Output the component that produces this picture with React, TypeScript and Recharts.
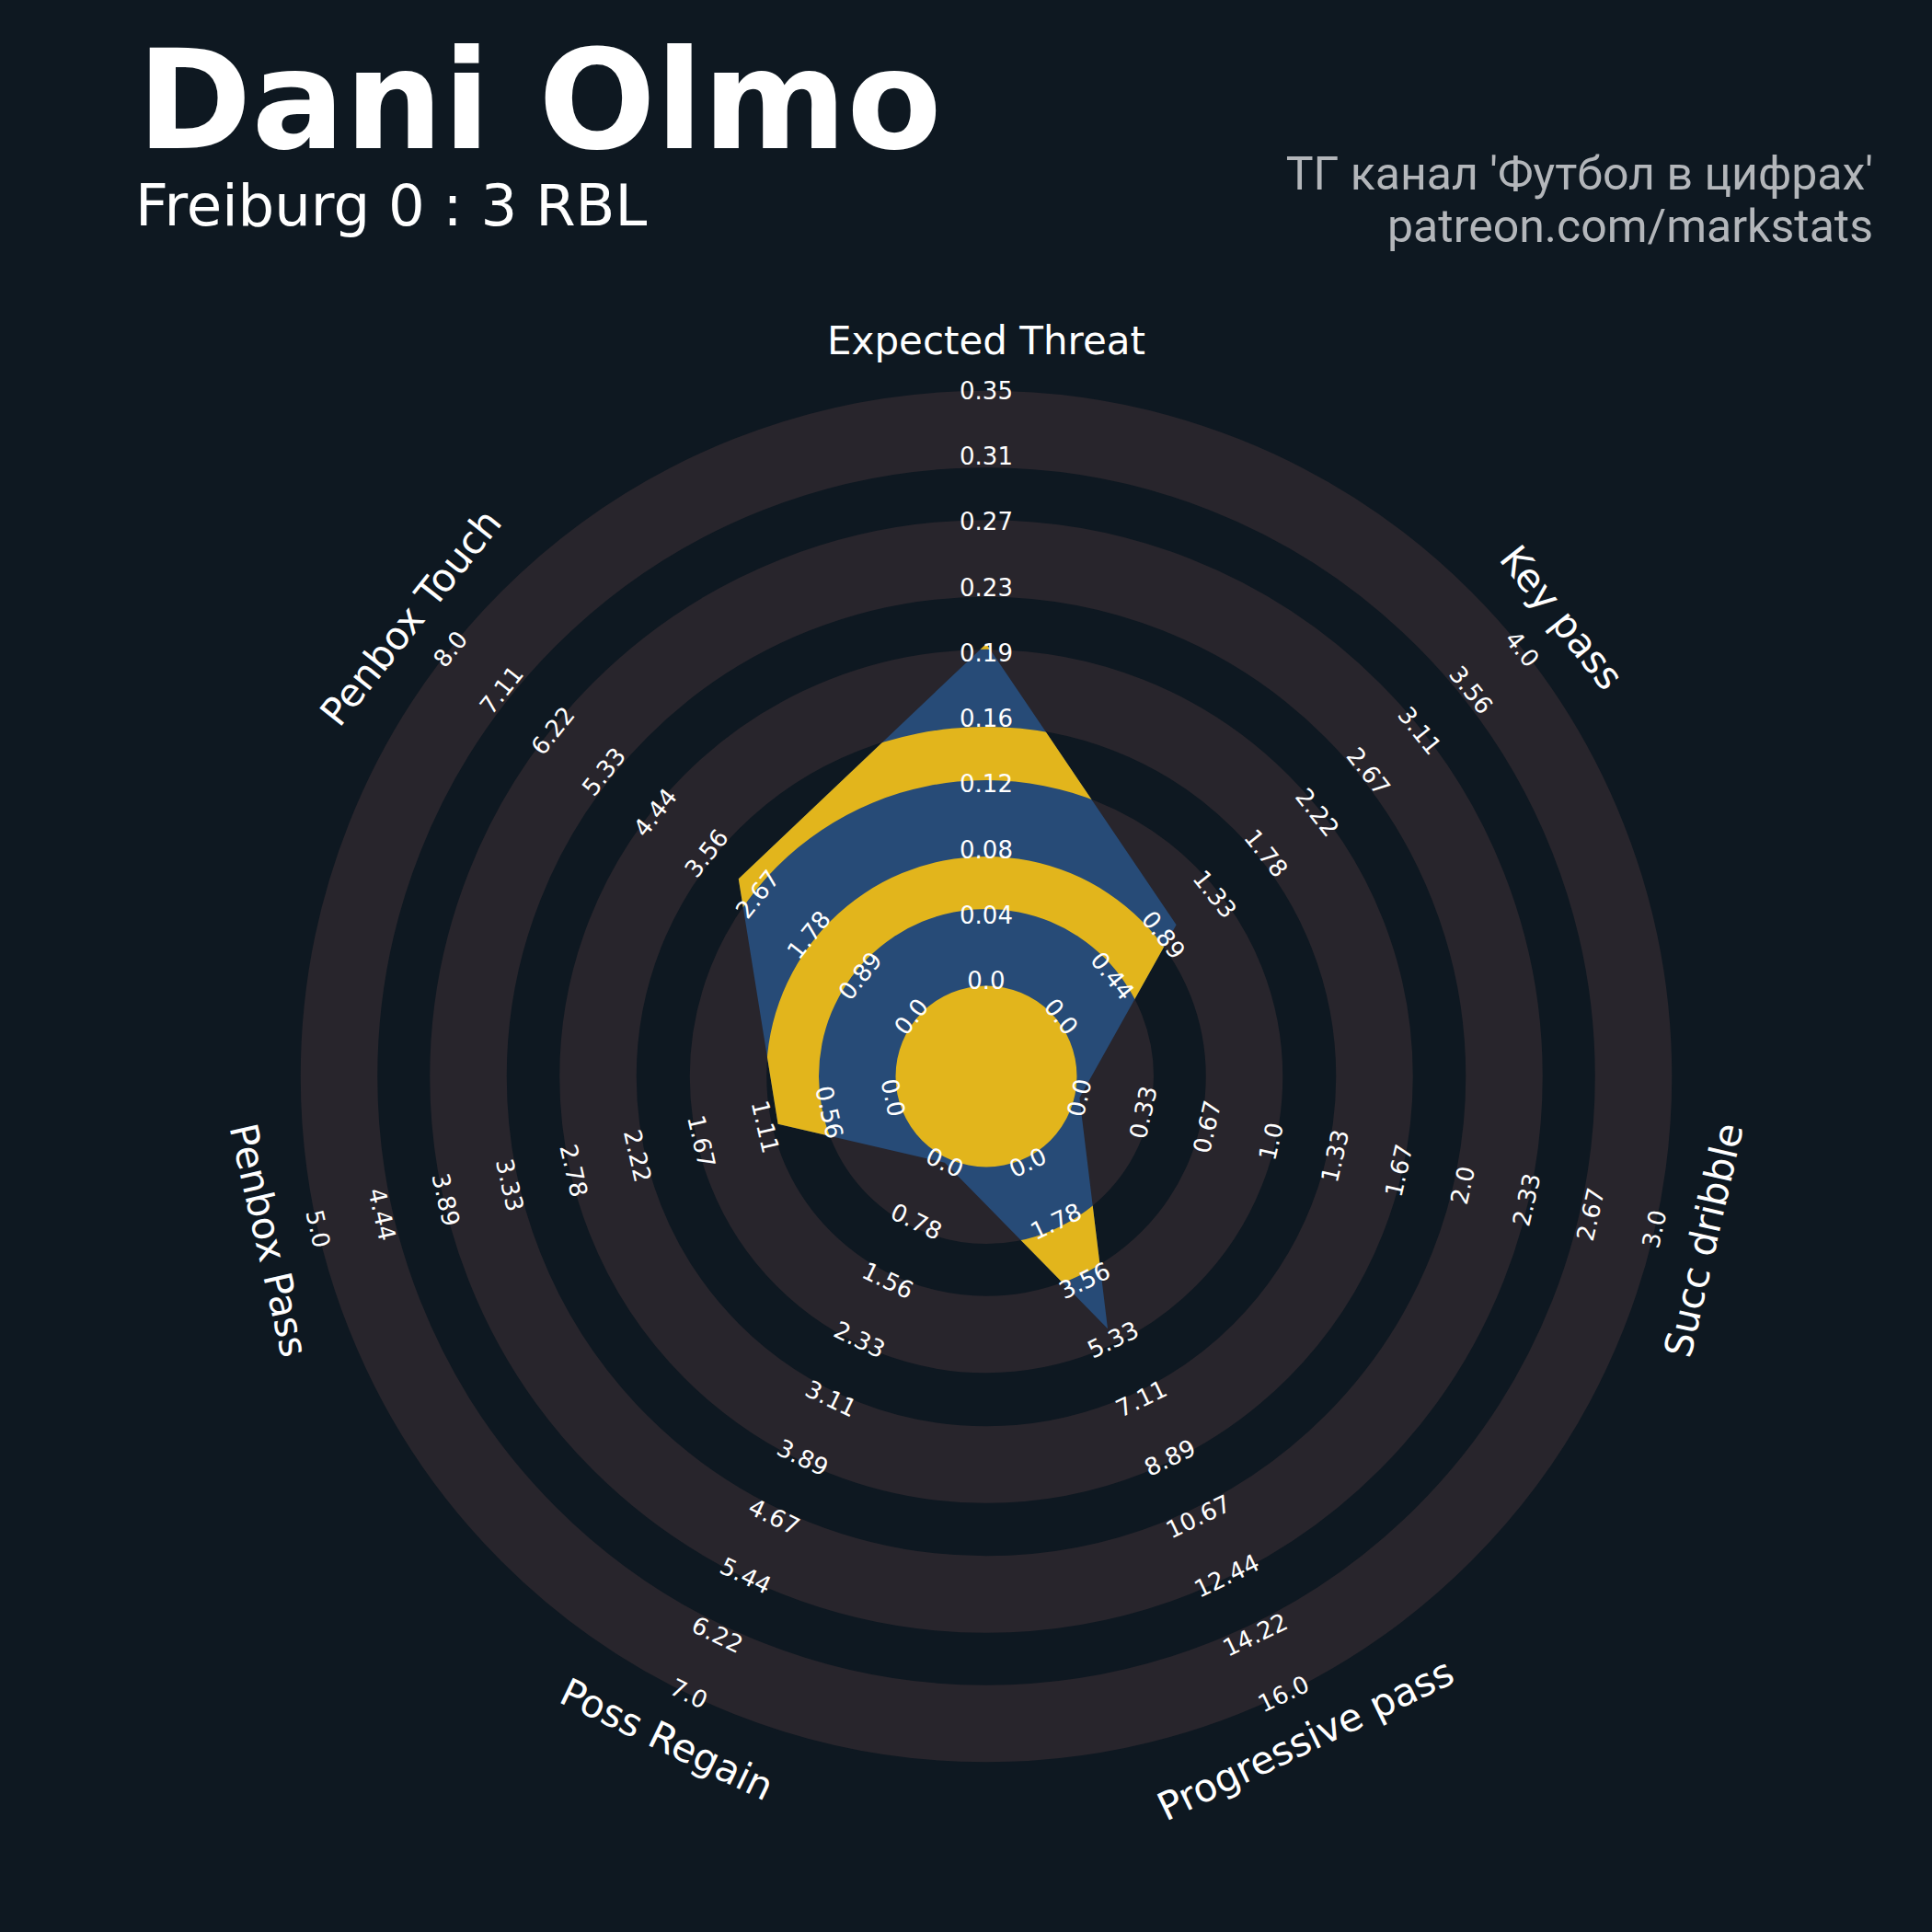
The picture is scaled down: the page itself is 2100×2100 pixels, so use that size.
import React from "react";
import {
  PolarAngleAxis,
  PolarGrid,
  PolarRadiusAxis,
  Radar,
  RadarChart,
} from "recharts";

// player radar, values per 90 for one match
const PARAMS = [
  "Expected Threat",
  "Key pass",
  "Succ dribble",
  "Progressive pass",
  "Poss Regain",
  "Penbox Pass",
  "Penbox Touch",
];
const VALUES = [0.2, 1, 0, 5, 0, 1, 3];
const MAXES = [0.35, 4, 3, 16, 7, 5, 8];
const TICK_LABELS = [
  ["0.0", "0.04", "0.08", "0.12", "0.16", "0.19", "0.23", "0.27", "0.31", "0.35"],
  ["0.0", "0.44", "0.89", "1.33", "1.78", "2.22", "2.67", "3.11", "3.56", "4.0"],
  ["0.0", "0.33", "0.67", "1.0", "1.33", "1.67", "2.0", "2.33", "2.67", "3.0"],
  ["0.0", "1.78", "3.56", "5.33", "7.11", "8.89", "10.67", "12.44", "14.22", "16.0"],
  ["0.0", "0.78", "1.56", "2.33", "3.11", "3.89", "4.67", "5.44", "6.22", "7.0"],
  ["0.0", "0.56", "1.11", "1.67", "2.22", "2.78", "3.33", "3.89", "4.44", "5.0"],
  ["0.0", "0.89", "1.78", "2.67", "3.56", "4.44", "5.33", "6.22", "7.11", "8.0"],
];

const TITLE = "Dani Olmo";
const SUBTITLE = "Freiburg 0 : 3 RBL";
const CREDITS = ["ТГ канал 'Футбол в цифрах'", "patreon.com/markstats"];

const SIZE = 2100;
const CX = 1072;
const CY = 1170;
const R_IN = 104;
const R_OUT = 745;
const NAME_R = 800;
// ring edges: gray, dark, gray, ... from the centre circle outwards
const RING_EDGES = [98.5, 182, 239, 322, 380, 464, 521, 605, 662, 745];

const BG = "#0e1821";
const RING = "#28252c";
const BLUE = "#274b77";
const YELLOW = "#e2b51c";
const FONT = "DejaVu Sans";

const rows = PARAMS.map((p, i) => ({ param: p, norm: VALUES[i] / MAXES[i] }));

const axisAngle = (i: number) => 90 - (i * 360) / PARAMS.length;

function tangentRot(angle: number) {
  let rot = 90 - angle;
  while (rot > 180) rot -= 360;
  while (rot <= -180) rot += 360;
  if (rot > 90) rot -= 180;
  if (rot < -90) rot += 180;
  return rot;
}

const bandCenters: number[] = [];
for (let k = 0; k + 1 < RING_EDGES.length; k += 2) {
  bandCenters.push((RING_EDGES[k] + RING_EDGES[k + 1]) / 2);
}

const circlePath = (cx: number, cy: number, r: number) =>
  `M${cx - r},${cy} a${r},${r} 0 1,0 ${2 * r},0 a${r},${r} 0 1,0 ${-2 * r},0 Z`;

// yellow part of the polygon: over the centre circle and the dark rings
const YellowShape = (props: any) => {
  const pts = props.points || [];
  if (!pts.length) return <g />;
  const cx = pts[0].cx ?? CX;
  const cy = pts[0].cy ?? CY;
  const d = RING_EDGES.slice(0, 9)
    .map((r) => circlePath(cx, cy, r))
    .join(" ");
  return (
    <g>
      <defs>
        <clipPath id="dark-rings">
          <path d={d} clipRule="evenodd" />
        </clipPath>
      </defs>
      <polygon
        points={pts.map((p: any) => `${p.x},${p.y}`).join(" ")}
        fill={YELLOW}
        clipPath="url(#dark-rings)"
      />
    </g>
  );
};

const ParamName = (props: any) => {
  const { payload } = props;
  const a = payload.coordinate;
  const cx = props.cx ?? CX;
  const cy = props.cy ?? CY;
  const rad = (a * Math.PI) / 180;
  const x = cx + NAME_R * Math.cos(rad);
  const y = cy - NAME_R * Math.sin(rad);
  return (
    <text
      x={x}
      y={y}
      transform={`rotate(${tangentRot(a)}, ${x}, ${y})`}
      textAnchor="middle"
      dominantBaseline="central"
      fill="#ffffff"
      fontSize={42}
      fontFamily={FONT}
    >
      {payload.value}
    </text>
  );
};

const makeTick = (i: number) => (props: any) => {
  const { x, y, index } = props;
  const rot = tangentRot(axisAngle(i));
  return (
    <text
      x={x}
      y={y}
      transform={`rotate(${rot}, ${x}, ${y})`}
      textAnchor="middle"
      dominantBaseline="central"
      fill="#ffffff"
      fontSize={26}
      fontFamily={FONT}
    >
      {TICK_LABELS[i][index]}
    </text>
  );
};

export default function App() {
  return (
    <div
      style={{
        position: "absolute",
        left: 0,
        top: 0,
        width: SIZE,
        height: SIZE,
        background: BG,
      }}
    >
      <RadarChart
        width={SIZE}
        height={SIZE}
        data={rows}
        cx={CX}
        cy={CY}
        innerRadius={R_IN}
        outerRadius={R_OUT}
        startAngle={90}
        endAngle={-270}
        margin={{ top: 0, right: 0, bottom: 0, left: 0 }}
      >
        <PolarGrid
          gridType="circle"
          radialLines={false}
          polarRadius={bandCenters}
          stroke={RING}
          strokeWidth={83.5}
        />
        <PolarAngleAxis
          dataKey="param"
          axisLine={false}
          tickLine={false}
          tick={ParamName}
        />
        <PolarRadiusAxis
          radiusAxisId="norm"
          domain={[0, 1]}
          type="number"
          tick={false}
          axisLine={false}
        />
        <Radar
          dataKey="norm"
          radiusAxisId="norm"
          fill={BLUE}
          fillOpacity={1}
          stroke="none"
          dot={false}
          isAnimationActive={false}
        />
        <Radar
          dataKey="norm"
          radiusAxisId="norm"
          fill={YELLOW}
          fillOpacity={1}
          stroke="none"
          dot={false}
          shape={YellowShape}
          isAnimationActive={false}
        />
        {PARAMS.map((p, i) => (
          <PolarRadiusAxis
            key={p}
            radiusAxisId={`ax${i}`}
            angle={axisAngle(i)}
            type="number"
            domain={[0, MAXES[i]]}
            allowDataOverflow
            ticks={TICK_LABELS[i].map((_, k) => (k * MAXES[i]) / 9)}
            axisLine={false}
            tickLine={false}
            tick={makeTick(i)}
          />
        ))}
      </RadarChart>
      <svg
        width={SIZE}
        height={SIZE}
        style={{ position: "absolute", left: 0, top: 0, pointerEvents: "none" }}
      >
        <text x={149} y={161} fill="#ffffff" fontSize={150} fontWeight="bold" fontFamily={FONT}>
          {TITLE}
        </text>
        <text x={147} y={245} fill="#ffffff" fontSize={62.5} fontFamily={FONT}>
          {SUBTITLE}
        </text>
        {CREDITS.map((t, i) => (
          <text
            key={t}
            x={2036}
            y={206 + i * 57}
            textAnchor="end"
            fill="#b3b6ba"
            fontSize={50}
            fontFamily="Roboto"
          >
            {t}
          </text>
        ))}
      </svg>
    </div>
  );
}
